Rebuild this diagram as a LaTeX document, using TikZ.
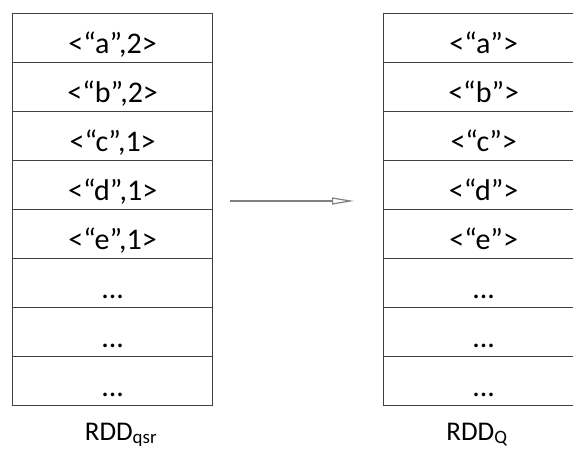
\documentclass[tikz,border=0pt]{standalone}
\usepackage{fontspec}
\setmainfont{Carlito}
\usetikzlibrary{arrows.meta}
\begin{document}
\begin{tikzpicture}[x=1pt,y=-1pt,
  cell/.style={draw=black!75, line width=1.3pt, minimum width=200pt, minimum height=49pt, inner sep=0pt, anchor=north west, text height=30pt, text depth=0pt, font=\fontsize{30}{34}\selectfont},
  lbl/.style={anchor=base, font=\fontsize{27}{30}\selectfont},
  conn/.style={draw=black!50, line width=1.2pt, -{Triangle[open, length=22pt, width=7pt, line width=1.2pt]}}]
\useasboundingbox (0,0) rectangle (573,449);
\clip (0,0) rectangle (573,449);
\node[cell] (l1) at (12,13) {\textless“a”,2\textgreater};
\node[cell] (l2) at (12,62) {\textless“b”,2\textgreater};
\node[cell] (l3) at (12,111) {\textless“c”,1\textgreater};
\node[cell] (l4) at (12,160) {\textless“d”,1\textgreater};
\node[cell] (l5) at (12,209) {\textless“e”,1\textgreater};
\node[cell] (l6) at (12,258) {...};
\node[cell] (l7) at (12,307) {...};
\node[cell] (l8) at (12,356) {...};
\node[cell] (r1) at (383,13) {\textless“a”\textgreater};
\node[cell] (r2) at (383,62) {\textless“b”\textgreater};
\node[cell] (r3) at (383,111) {\textless“c”\textgreater};
\node[cell] (r4) at (383,160) {\textless“d”\textgreater};
\node[cell] (r5) at (383,209) {\textless“e”\textgreater};
\node[cell] (r6) at (383,258) {...};
\node[cell] (r7) at (383,307) {...};
\node[cell] (r8) at (383,356) {...};
\coordinate (as) at (230,201);
\coordinate (ae) at (354,201);
\draw[conn] (as) -- (ae);
\node[lbl] (ql) at (121,440) {RDD\textsubscript{qsr}};
\node[lbl] (qr) at (477,440) {RDD\textsubscript{Q}};
\end{tikzpicture}
\end{document}
